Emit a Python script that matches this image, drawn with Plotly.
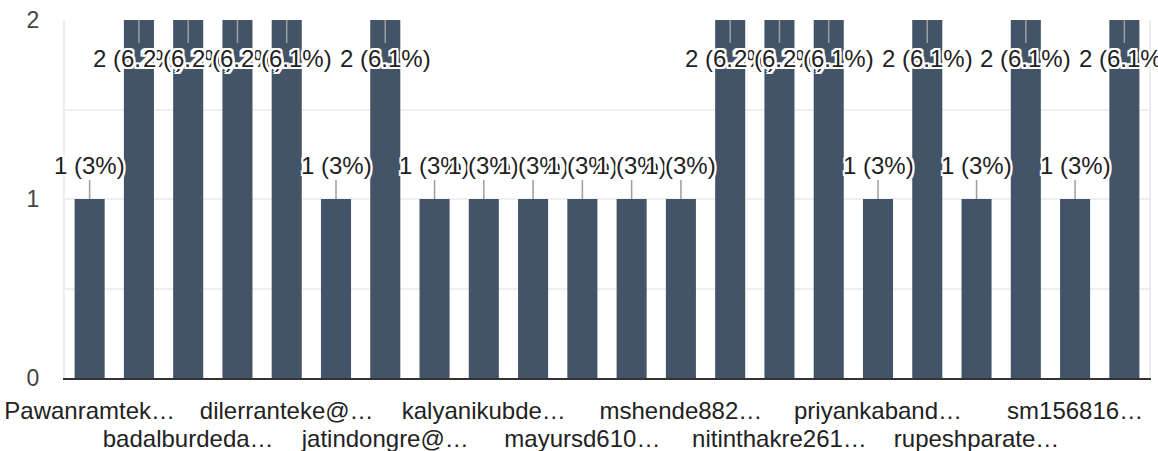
import plotly.graph_objects as go

# Responses per respondent (22 bars, every other one is labelled on the axis)
counts = [1, 2, 2, 2, 2, 1, 2, 1, 1, 1, 1, 1, 1, 2, 2, 2, 1, 2, 1, 2, 1, 2]
percent_labels = ["3%", "6.2%", "6.2%", "6.2%", "6.1%", "3%", "6.1%", "3%", "3%", "3%", "3%",
                  "3%", "3%", "6.2%", "6.2%", "6.1%", "3%", "6.1%", "3%", "6.1%", "3%", "6.1%"]

# Axis labels shown under the bars (two staggered rows)
row1_pos = [0, 4, 8, 12, 16, 20]
row1_labels = ["Pawanramtek…", "dilerranteke@…", "kalyanikubde…", "mshende882…",
               "priyankaband…", "sm156816…"]
row2_pos = [2, 6, 10, 14, 18]
row2_labels = ["badalburdeda…", "jatindongre@…", "mayursd610…", "nitinthakre261…",
               "rupeshparate…"]

y_ticks = [0, 0.5, 1, 1.5, 2]
y_ticktext = ["0", "", "1", "", "2"]

bar_color = "#435469"
font_family = "Liberation Sans, Arial, sans-serif"
halo = ("2px 0 0 white, -2px 0 0 white, 0 2px 0 white, 0 -2px 0 white, "
        "2px 2px 0 white, -2px -2px 0 white, 2px -2px 0 white, -2px 2px 0 white")

x = list(range(len(counts)))

fig = go.Figure()
fig.add_trace(go.Bar(x=x, y=counts, marker=dict(color=bar_color, line=dict(width=0)),
                     hoverinfo="skip", showlegend=False))
# invisible helper so the second label row (xaxis2) gets drawn
fig.add_trace(go.Scatter(x=row2_pos, y=[0] * len(row2_pos), xaxis="x2", mode="markers",
                         marker=dict(opacity=0), hoverinfo="skip", showlegend=False))

# value labels with leader lines
for i, (v, p) in enumerate(zip(counts, percent_labels)):
    fig.add_annotation(
        x=i, y=v, xref="x", yref="y",
        text=f"{v} ({p})",
        showarrow=True, arrowhead=0, arrowwidth=1.5, arrowcolor="#9e9e9e",
        ax=0, ay=-34 if v < 2 else 38, standoff=0,
        font=dict(family=font_family, size=24, color="#222222", shadow=halo),
    )

fig.update_layout(
    width=1158, height=451,
    margin=dict(l=65, r=9, t=20, b=73),
    paper_bgcolor="white", plot_bgcolor="white",
    bargap=0.39,
    font=dict(family=font_family),
    xaxis=dict(
        range=[-0.5, len(counts) - 0.5],
        tickmode="array", tickvals=row1_pos, ticktext=row1_labels,
        tickfont=dict(size=24, color="#222222"),
        ticklabelstandoff=10, automargin=False,
        showgrid=False, zeroline=False,
        showline=True, linecolor="#333333", linewidth=2,
    ),
    xaxis2=dict(
        range=[-0.5, len(counts) - 0.5],
        overlaying="x", anchor="y", side="bottom",
        tickmode="array", tickvals=row2_pos, ticktext=row2_labels,
        tickfont=dict(size=24, color="#222222"),
        ticklabelstandoff=44, automargin=False,
        showgrid=False, zeroline=False, showline=False,
    ),
    yaxis=dict(
        range=[0, 2],
        tickmode="array", tickvals=y_ticks, ticktext=y_ticktext,
        tickfont=dict(size=23, color="#444444"),
        ticklabelstandoff=19, automargin=False,
        showgrid=True, gridcolor="#efefef", gridwidth=1.5,
        zeroline=False,
        showline=True, linecolor="#ececec", linewidth=2, mirror=True,
    ),
)

# drop the default 8px page margin so the figure fills the window
fig.write_html("out.html", config={"displayModeBar": False},
               post_script="document.body.style.margin='0';")
